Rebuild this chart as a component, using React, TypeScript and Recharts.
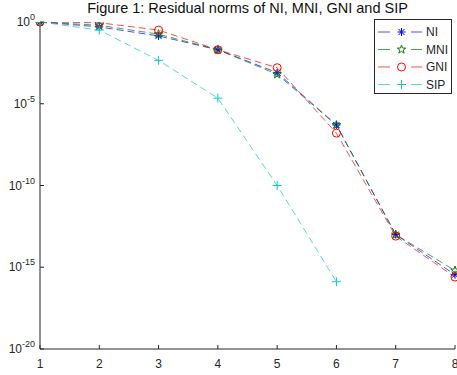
import { LineChart, Line, XAxis, YAxis, Legend } from 'recharts'

// iteration number and residual norm of each method
const iterations = [1, 2, 3, 4, 5, 6, 7, 8]
const ni = [1, 0.5, 0.14, 0.02, 8e-4, 5e-7, 1e-13, 3.5e-16]
const mni = [1, 0.63, 0.18, 0.02, 6.3e-4, 5e-7, 1e-13, 6.3e-16]
const gni = [1, 0.9, 0.32, 0.02, 1.6e-3, 1.6e-7, 8e-14, 2.5e-16]
const sip = [1, 0.32, 4.5e-3, 2.2e-5, 1e-10, 1.3e-16]

const xTicks = [1, 2, 3, 4, 5, 6, 7, 8]
const yTicks = [1e-20, 1e-15, 1e-10, 1e-5, 1]

const FONT = '"Liberation Sans", Arial, Helvetica, sans-serif'
const AXIS = '#262626'
const DASH = '7 4'

const series = [
  { key: 'ni', name: 'NI', color: '#0000FF', kind: 'star' },
  { key: 'mni', name: 'MNI', color: '#008000', kind: 'pent' },
  { key: 'gni', name: 'GNI', color: '#FF0000', kind: 'circle' },
  { key: 'sip', name: 'SIP', color: '#10C8C8', kind: 'plus' },
]

const data = iterations.map((x, i) => ({ x, ni: ni[i], mni: mni[i], gni: gni[i], sip: sip[i] }))

function Marker({ kind, cx, cy, color }: { kind: string; cx: number; cy: number; color: string }) {
  if (kind === 'star') {
    return (
      <g stroke={color} strokeWidth={1} fill="none">
        <line x1={cx - 4} y1={cy} x2={cx + 4} y2={cy} />
        <line x1={cx} y1={cy - 4} x2={cx} y2={cy + 4} />
        <line x1={cx - 3} y1={cy - 3} x2={cx + 3} y2={cy + 3} />
        <line x1={cx - 3} y1={cy + 3} x2={cx + 3} y2={cy - 3} />
      </g>
    )
  }
  if (kind === 'pent') {
    const pts: string[] = []
    for (let k = 0; k < 10; k++) {
      const a = ((-90 + k * 36) * Math.PI) / 180
      const r = k % 2 === 0 ? 4.5 : 1.8
      pts.push(`${cx + r * Math.cos(a)},${cy + r * Math.sin(a)}`)
    }
    return <polygon points={pts.join(' ')} stroke={color} strokeWidth={1} fill="none" />
  }
  if (kind === 'circle') {
    return <circle cx={cx} cy={cy} r={4} stroke={color} strokeWidth={1} fill="none" />
  }
  return (
    <g stroke={color} strokeWidth={1}>
      <line x1={cx - 4.5} y1={cy} x2={cx + 4.5} y2={cy} />
      <line x1={cx} y1={cy - 4.5} x2={cx} y2={cy + 4.5} />
    </g>
  )
}

function makeDot(s: { key: string; kind: string; color: string }) {
  return (p: any) => {
    const k = `${s.key}-${p.index}`
    if (p.cy == null || p.cx == null || p.value == null) return <g key={k} />
    return (
      <g key={k}>
        <Marker kind={s.kind} cx={p.cx} cy={p.cy} color={s.color} />
      </g>
    )
  }
}

function BottomTick({ x, y, payload }: any) {
  return (
    <g>
      <line x1={x} y1={y} x2={x} y2={y - 4} stroke={AXIS} />
      <text x={x} y={y + 19} textAnchor="middle" fontSize={12} fill={AXIS} fontFamily={FONT}>
        {payload.value}
      </text>
    </g>
  )
}

function TopTick({ x, y }: any) {
  return <line x1={x} y1={y} x2={x} y2={y + 4} stroke={AXIS} />
}

function LeftTick({ x, y, payload }: any) {
  const exp = Math.round(Math.log10(payload.value))
  return (
    <g>
      <line x1={x} y1={y} x2={x + 4} y2={y} stroke={AXIS} />
      <text x={x - 5} y={y + 4} textAnchor="end" fontSize={12} fill={AXIS} fontFamily={FONT}>
        <tspan>10</tspan>
        <tspan dy={-6} fontSize={9}>{exp}</tspan>
      </text>
    </g>
  )
}

function RightTick({ x, y }: any) {
  return <line x1={x} y1={y} x2={x - 4} y2={y} stroke={AXIS} />
}

function LegendBox() {
  return (
    <svg width={78} height={75} style={{ display: 'block' }}>
      <rect x={0.5} y={0.5} width={77} height={74} fill="#fff" stroke={AXIS} />
      {series.map((s, i) => {
        const y = 13 + i * 17.5
        return (
          <g key={s.key}>
            <line x1={4} y1={y} x2={16} y2={y} stroke={s.color} strokeOpacity={0.7} />
            <line x1={37} y1={y} x2={48} y2={y} stroke={s.color} strokeOpacity={0.7} />
            <Marker kind={s.kind} cx={27.5} cy={y} color={s.color} />
            <text x={52} y={y + 4} fontSize={12} fill={AXIS} fontFamily={FONT}>
              {s.name}
            </text>
          </g>
        )
      })}
    </svg>
  )
}

export default function App() {
  return (
    <div style={{ position: 'absolute', left: 0, top: 0, width: 457, height: 375, background: '#fff' }}>
      <div
        style={{
          position: 'absolute',
          left: 40,
          width: 415,
          top: 0,
          textAlign: 'center',
          fontFamily: FONT,
          fontSize: 14.5,
          lineHeight: '17px',
          color: '#111',
          whiteSpace: 'nowrap',
        }}
      >
        Figure 1: Residual norms of NI, MNI, GNI and SIP
      </div>
      <LineChart width={457} height={375} data={data} margin={{ top: 22, right: 2, bottom: 0, left: 0 }}>
        <XAxis
          dataKey="x"
          type="number"
          domain={[1, 8]}
          ticks={xTicks}
          interval={0}
          height={26}
          tickSize={0}
          tickMargin={0}
          stroke={AXIS}
          tick={<BottomTick />}
        />
        <XAxis
          xAxisId="top"
          orientation="top"
          dataKey="x"
          type="number"
          domain={[1, 8]}
          ticks={xTicks}
          interval={0}
          height={0}
          tickSize={0}
          tickMargin={0}
          stroke={AXIS}
          tick={<TopTick />}
        />
        <YAxis
          type="number"
          scale="log"
          domain={[1e-20, 1]}
          allowDataOverflow
          ticks={yTicks}
          interval={0}
          width={40}
          tickSize={0}
          tickMargin={0}
          stroke={AXIS}
          tick={<LeftTick />}
        />
        <YAxis
          yAxisId="right"
          orientation="right"
          type="number"
          scale="log"
          domain={[1e-20, 1]}
          allowDataOverflow
          ticks={yTicks}
          interval={0}
          width={0}
          tickSize={0}
          tickMargin={0}
          stroke={AXIS}
          tick={<RightTick />}
        />
        <Legend
          layout="horizontal"
          verticalAlign="middle"
          align="center"
          wrapperStyle={{ top: 19, left: 374, width: 78 }}
          content={() => <LegendBox />}
        />
        {series.map(s => (
          <Line
            key={s.key}
            dataKey={s.key}
            name={s.name}
            type="linear"
            stroke={s.color}
            strokeOpacity={0.7}
            strokeWidth={1}
            strokeDasharray={DASH}
            dot={makeDot(s)}
            activeDot={false}
            isAnimationActive={false}
          />
        ))}
      </LineChart>
    </div>
  )
}
